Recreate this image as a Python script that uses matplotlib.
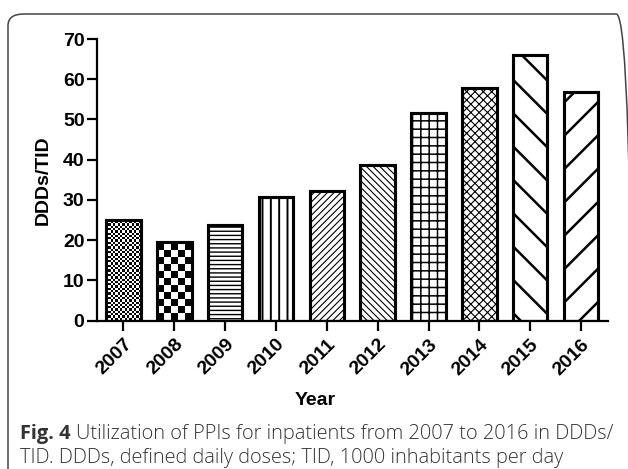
"""
Fig. 4: PPI utilization for inpatients, 2007-2016 (DDDs/TID)
"""

import numpy as np
import matplotlib
matplotlib.use("Agg")
import matplotlib.pyplot as plt
from matplotlib.patches import FancyBboxPatch

years = ["2007", "2008", "2009", "2010", "2011", "2012", "2013", "2014", "2015", "2016"]
ddd_tid = [25.1, 19.6, 23.7, 30.8, 32.3, 38.7, 51.7, 57.7, 66.1, 56.9]

# hatch and hatch line width per bar; None = checkerboard drawn as image
hatches = [None, None, "----", "||", "/////", "\\\\\\\\\\", "++", "xxxx", "\\", "/"]
hatch_lw = [1, 1, 1.0, 1.4, 0.8, 0.8, 1.1, 0.8, 1.8, 1.8]
checker_px = {0: 2.3, 1: 7.0}

plt.rcParams.update({
    "font.family": ["Liberation Sans", "DejaVu Sans"],
    "font.weight": "bold",
    "hatch.color": "black",
})

W, H = 628, 469
fig = plt.figure(figsize=(W / 100, H / 100), dpi=100)
ax = fig.add_axes([97 / W, 1 - 320.5 / H, (608 - 97) / W, (320.5 - 39) / H])

x = np.arange(len(years))
bars = ax.bar(x, ddd_tid, width=0.68, color="white", edgecolor="black",
              linewidth=2.2, zorder=2)
for b, h, lw in zip(bars, hatches, hatch_lw):
    if h:
        b.set_hatch(h)
        if hasattr(b, "set_hatch_linewidth"):
            b.set_hatch_linewidth(lw)

ax.set_xlim(-0.52, 9.53)
ax.set_ylim(0, 70)

# checkerboards for the first two bars, clipped to the bar shape
fig.canvas.draw()
px_x = ax.transData.transform((1, 0))[0] - ax.transData.transform((0, 0))[0]
px_y = ax.transData.transform((0, 1))[1] - ax.transData.transform((0, 0))[1]
for i, cell in checker_px.items():
    b = bars[i]
    bx, by, bw, bh = b.get_x(), b.get_y(), b.get_width(), b.get_height()
    nx = int(round(bw * px_x / cell))
    ny = int(round(bh * px_y / cell))
    arr = (np.add.outer(np.arange(ny), np.arange(nx)) % 2).astype(float)
    im = ax.imshow(arr, extent=(bx, bx + nx * cell / px_x, by, by + ny * cell / px_y),
                   cmap="gray", interpolation="nearest", aspect="auto",
                   origin="lower", zorder=2.5)
    im.set_clip_path(b)
ax.bar(x, ddd_tid, width=0.68, fill=False, edgecolor="black", linewidth=2.2, zorder=3)
ax.set_xlim(-0.52, 9.53)
ax.set_ylim(0, 70)

for s in ["top", "right"]:
    ax.spines[s].set_visible(False)
for s in ["left", "bottom"]:
    ax.spines[s].set_linewidth(1.6)

ax.set_yticks(range(0, 71, 10))
ax.set_xticks(x)
ax.set_xticklabels(years, rotation=45, ha="right", rotation_mode="anchor")
ax.tick_params(axis="both", length=7, width=1.6, labelsize=14, pad=2)
ax.tick_params(axis="x", pad=4)
ax.set_ylabel("DDDs/TID", fontsize=14, fontweight="bold", labelpad=8)
ax.set_xlabel("Year", fontsize=14, fontweight="bold")
ax.xaxis.set_label_coords(0.427, -0.255)

# outer frame of the figure panel
frame = FancyBboxPatch((8 / W, -0.1), (632 - 8) / W, 1.1 - 14 / H,
                       boxstyle="round,pad=0,rounding_size=0.025",
                       transform=fig.transFigure, fill=False,
                       edgecolor="#444444", linewidth=1.1, clip_on=False)
fig.patches.append(frame)

# caption
cap_kw = dict(fontsize=14.4, color="#333333", family=["Open Sans", "DejaVu Sans"])
t1 = fig.text(20 / W, 1 - 439 / H, "Fig. 4", fontweight="bold", **cap_kw)
fig.canvas.draw()
ext = t1.get_window_extent()
fig.text(ext.x1 / W + 0.008, 1 - 439 / H,
         "Utilization of PPIs for inpatients from 2007 to 2016 in DDDs/",
         fontweight="light", **cap_kw)
fig.text(20 / W, 1 - 463 / H,
         "TID. DDDs, defined daily doses; TID, 1000 inhabitants per day",
         fontweight="light", **cap_kw)

fig.savefig("out.png", dpi=100)
